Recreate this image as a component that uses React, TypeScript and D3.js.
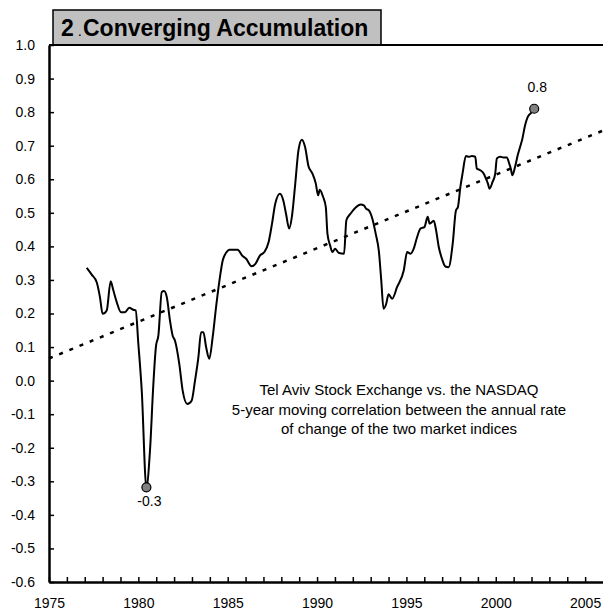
import React, { useRef, useEffect } from "react";
import * as d3 from "d3";

// 5-year moving correlation, TASE vs NASDAQ
const years = [
  1977.11, 1977.39, 1977.67, 1977.85, 1978.0, 1978.23, 1978.45, 1978.6, 1978.79, 1979.03,
  1979.25, 1979.49, 1979.72, 1979.85, 1980.0, 1980.19, 1980.45, 1980.65, 1980.84, 1980.99,
  1981.12, 1981.31, 1981.44, 1981.59, 1981.77, 1981.92, 1982.05, 1982.29, 1982.48, 1982.74,
  1982.98, 1983.17, 1983.36, 1983.51, 1983.64, 1983.79, 1983.97, 1984.16, 1984.35, 1984.54,
  1984.72, 1984.9, 1985.1, 1985.56, 1985.8, 1986.03, 1986.34, 1986.55, 1986.81, 1987.05,
  1987.29, 1987.48, 1987.66, 1987.92, 1988.11, 1988.26, 1988.44, 1988.59, 1988.78, 1988.96,
  1989.15, 1989.33, 1989.52, 1989.74, 1989.93, 1990.06, 1990.15, 1990.34, 1990.49, 1990.58,
  1990.73, 1990.86, 1991.01, 1991.23, 1991.51, 1991.64, 1991.88, 1992.16, 1992.44, 1992.62,
  1992.75, 1992.9, 1993.09, 1993.28, 1993.46, 1993.59, 1993.72, 1993.87, 1994.0, 1994.2,
  1994.48, 1994.85, 1995.04, 1995.23, 1995.41, 1995.6, 1995.79, 1996.01, 1996.19, 1996.3,
  1996.53, 1996.66, 1996.81, 1996.99, 1997.18, 1997.36, 1997.59, 1997.77, 1997.88, 1998.02,
  1998.14, 1998.33, 1998.52, 1998.66, 1998.85, 1998.94, 1999.13, 1999.32, 1999.45, 1999.56,
  1999.65, 1999.82, 1999.97, 2000.06, 2000.25, 2000.43, 2000.62, 2000.75, 2000.84, 2000.93,
  2001.08, 2001.23, 2001.36, 2001.49, 2001.64, 2001.79, 2001.98, 2002.15,
];
const correlation = [
  0.336, 0.316, 0.293, 0.249, 0.199, 0.209, 0.296, 0.269, 0.234, 0.204,
  0.204, 0.217, 0.211, 0.209, 0.109, -0.03, -0.318, -0.209, -0.01, 0.104,
  0.134, 0.264, 0.267, 0.249, 0.179, 0.134, 0.119, 0.05, -0.03, -0.07,
  -0.06, 0.0, 0.07, 0.144, 0.144, 0.1, 0.065, 0.13, 0.22, 0.299,
  0.358, 0.38, 0.39, 0.39, 0.373, 0.363, 0.341, 0.348, 0.373, 0.383,
  0.413, 0.468, 0.527, 0.557, 0.537, 0.498, 0.453, 0.488, 0.587, 0.687,
  0.718, 0.696, 0.639, 0.617, 0.587, 0.552, 0.569, 0.547, 0.517, 0.438,
  0.403, 0.383, 0.393, 0.38, 0.378, 0.478, 0.498, 0.516, 0.525, 0.522,
  0.512, 0.507, 0.483, 0.438, 0.385, 0.3, 0.214, 0.229, 0.257, 0.244,
  0.279, 0.328, 0.383, 0.378, 0.393, 0.428, 0.453, 0.458, 0.488, 0.468,
  0.476, 0.448, 0.398, 0.363, 0.34, 0.338, 0.408, 0.507, 0.517, 0.577,
  0.617, 0.669, 0.667, 0.669, 0.667, 0.632, 0.627, 0.617, 0.602, 0.587,
  0.572, 0.592, 0.617, 0.662, 0.667, 0.665, 0.665, 0.647, 0.632, 0.612,
  0.637, 0.672, 0.696, 0.721, 0.761, 0.786, 0.798, 0.81,
];

// linear trend end points
const trendYears = [1975, 2006];
const trendValues = [0.066, 0.745];

// marked points
const markYears = [1980.45, 2002.15];
const markValues = [-0.318, 0.81];
const markLabels = ["-0.3", "0.8"];

const yTicks = d3.range(-6, 11).map((d) => d / 10);
const xTicks = d3.range(1975, 2006);

const noteLines = [
  "Tel Aviv Stock Exchange vs. the NASDAQ",
  "5-year moving correlation between the annual rate",
  "of change of the two market indices",
];

export default function App() {
  const svgRef = useRef(null);

  useEffect(() => {
    document.body.style.margin = "0";
    const width = 603;
    const height = 612;
    const margin = { top: 45, right: 0, bottom: 30, left: 49 };
    const font = "'Liberation Sans', Arial, sans-serif";

    const svg = d3.select(svgRef.current);
    svg.selectAll("*").remove();
    svg.attr("width", width).attr("height", height);

    const x = d3.scaleLinear().domain([1975, 2006]).range([margin.left, width - margin.right]);
    const y = d3.scaleLinear().domain([-0.6, 1.0]).range([height - margin.bottom, margin.top]);

    /* title box */
    svg
      .append("rect")
      .attr("x", 53)
      .attr("y", 10)
      .attr("width", 328)
      .attr("height", 35)
      .attr("fill", "#c0c0c0")
      .attr("stroke", "#000")
      .attr("stroke-width", 1.5);

    const title = svg
      .append("text")
      .attr("x", 61)
      .attr("y", 36)
      .attr("font-family", font)
      .attr("font-weight", "bold")
      .attr("font-size", 23)
      .attr("fill", "#000");
    title.append("tspan").text("2");
    title.append("tspan").attr("dx", 4).attr("font-size", 15).attr("font-weight", "normal").text(".");
    title.append("tspan").attr("dx", 1).text("Converging Accumulation");

    /* top frame line */
    svg
      .append("line")
      .attr("x1", x(1975))
      .attr("x2", x(2006))
      .attr("y1", y(1.0))
      .attr("y2", y(1.0))
      .attr("stroke", "#000")
      .attr("stroke-width", 2);

    /* x axis */
    const xAxis = svg
      .append("g")
      .attr("transform", `translate(0,${y(-0.6)})`)
      .call(
        d3
          .axisBottom(x)
          .tickValues(xTicks)
          .tickSizeInner(-5)
          .tickSizeOuter(0)
          .tickPadding(16)
          .tickFormat((d) => (Number(d) % 5 === 0 ? String(d) : ""))
      );
    xAxis.select(".domain").attr("stroke-width", 2.5);
    xAxis.selectAll(".tick line").attr("stroke-width", 1.5);
    xAxis
      .selectAll("text")
      .attr("font-family", font)
      .attr("font-size", 14)
      .attr("fill", "#000");

    /* y axis */
    const yAxis = svg
      .append("g")
      .attr("transform", `translate(${x(1975)},0)`)
      .call(
        d3
          .axisLeft(y)
          .tickValues(yTicks)
          .tickSizeInner(-5)
          .tickSizeOuter(0)
          .tickPadding(14)
          .tickFormat((d) => Number(d).toFixed(1))
      );
    yAxis.select(".domain").attr("stroke-width", 2.5);
    yAxis.selectAll(".tick line").attr("stroke-width", 1.5);
    yAxis
      .selectAll("text")
      .attr("font-family", font)
      .attr("font-size", 14)
      .attr("fill", "#000");

    /* trend line */
    svg
      .append("path")
      .datum(trendYears.map((d, i) => [d, trendValues[i]]))
      .attr("fill", "none")
      .attr("stroke", "#000")
      .attr("stroke-width", 2.5)
      .attr("stroke-dasharray", "4 7")
      .attr(
        "d",
        d3
          .line()
          .x((d) => x(d[0]))
          .y((d) => y(d[1]))
      );

    /* correlation line */
    svg
      .append("path")
      .datum(years.map((d, i) => [d, correlation[i]]))
      .attr("fill", "none")
      .attr("stroke", "#000")
      .attr("stroke-width", 2)
      .attr("stroke-linejoin", "round")
      .attr(
        "d",
        d3
          .line()
          .x((d) => x(d[0]))
          .y((d) => y(d[1]))
          .curve(d3.curveMonotoneX)
      );

    /* marked points */
    svg
      .selectAll(".mark")
      .data(markYears)
      .enter()
      .append("circle")
      .attr("cx", (d) => x(d))
      .attr("cy", (d, i) => y(markValues[i]))
      .attr("r", 4.5)
      .attr("fill", "#808080")
      .attr("stroke", "#000")
      .attr("stroke-width", 1.2);

    svg
      .selectAll(".mark-label")
      .data(markYears)
      .enter()
      .append("text")
      .attr("x", (d) => x(d) + 3)
      .attr("y", (d, i) => y(markValues[i]) + (markValues[i] < 0 ? 19 : -17))
      .attr("text-anchor", "middle")
      .attr("font-family", font)
      .attr("font-size", 14)
      .attr("fill", "#000")
      .text((d, i) => markLabels[i]);

    /* note */
    svg
      .append("text")
      .attr("x", 399)
      .attr("y", 395)
      .attr("text-anchor", "middle")
      .attr("font-family", font)
      .attr("font-size", 15)
      .attr("fill", "#000")
      .selectAll("tspan")
      .data(noteLines)
      .enter()
      .append("tspan")
      .attr("x", 399)
      .attr("dy", (d, i) => (i === 0 ? 0 : 19.5))
      .text((d) => d);
  }, []);

  return (
    <div style={{ width: 603, height: 612 }}>
      <svg ref={svgRef}></svg>
    </div>
  );
}
